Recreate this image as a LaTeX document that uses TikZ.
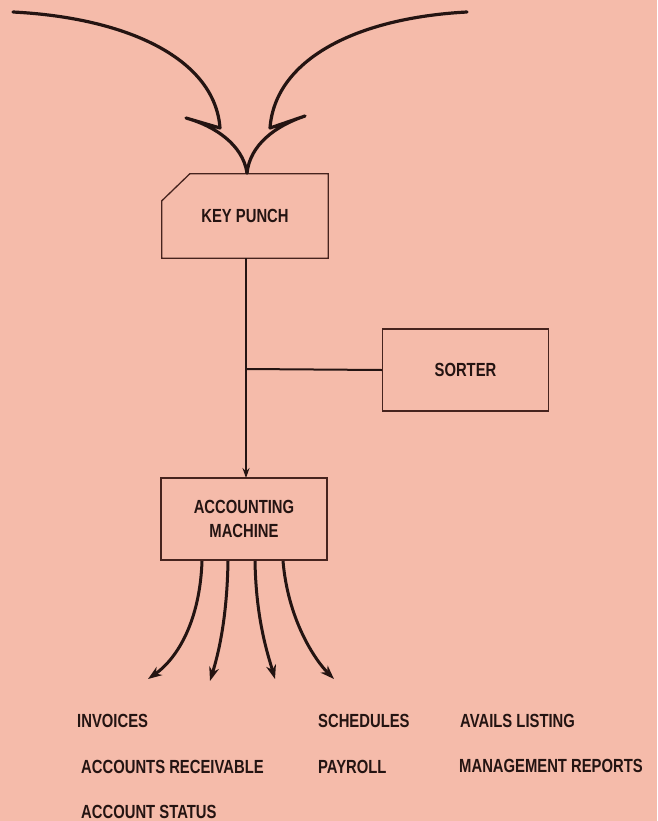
\documentclass[tikz,border=0pt]{standalone}
\usepackage{fontspec}
\newfontfamily\lblfont[FakeStretch=0.78]{Liberation Sans}
\usetikzlibrary{arrows.meta}
\definecolor{paper}{RGB}{245,187,170}
\definecolor{ink}{RGB}{36,20,18}
\definecolor{boxline}{RGB}{70,35,30}
\tikzset{
  lbl/.style={font=\lblfont\bfseries\fontsize{19}{24}\selectfont, text=ink, inner sep=0pt},
  boxnode/.style={lbl, draw=boxline, line width=1.3pt, align=center},
  flow/.style={draw=ink, line width=3.2pt, line join=round, line cap=round},
  outarrow/.style={draw=ink, line width=3pt, -{Stealth[length=14pt,width=10pt]}},
  link/.style={draw=ink, line width=2pt}
}
\begin{document}
\begin{tikzpicture}[x=1pt,y=-1pt]
\fill[paper] (0,0) rectangle (657,821);
\useasboundingbox (0,0) rectangle (657,821);

% key punch (card shape with cut corner)
\node[lbl, minimum width=166pt, minimum height=84pt] (kp) at (245,216) {KEY PUNCH};
\draw[draw=boxline, line width=1.3pt]
  ([xshift=28pt]kp.north west) -- (kp.north east) -- (kp.south east)
  -- (kp.south west) -- ([yshift=-27pt]kp.north west) -- cycle;

\node[boxnode, minimum width=166pt, minimum height=82pt] (sorter) at (465.5,370) {SORTER};
\node[boxnode, minimum width=166pt, minimum height=82pt] (acc) at (244,519) {ACCOUNTING\\MACHINE};

% incoming lightning arrows
\coordinate (inl) at (13,12);
\coordinate (tipl) at (220,128);
\coordinate (barbl) at (186,118);
\coordinate (inr) at (467,12);
\coordinate (tipr) at (270,128);
\coordinate (barbr) at (305,116);
\coordinate (join) at (247,173);
\path[flow] (inl) .. controls (130,18) and (215,60) .. (tipl) -- (barbl)
  .. controls (215,126) and (243,145) .. (join);
\path[flow] (inr) .. controls (355,18) and (275,60) .. (tipr) -- (barbr)
  .. controls (275,126) and (250,145) .. (join);

% main flow
\coordinate (kpout) at (246,258);
\coordinate (accin) at (246,478);
\draw[link, -{Stealth[length=10pt,width=7pt]}] (kpout) -- (accin);
\coordinate (tee) at (246,369);
\draw[link] (sorter.west) -- (tee);

% outputs
\coordinate (s1) at (202,561); \coordinate (e1) at (148,679);
\coordinate (s2) at (228,561); \coordinate (e2) at (210,681);
\coordinate (s3) at (255,561); \coordinate (e3) at (275,679);
\coordinate (s4) at (283,561); \coordinate (e4) at (334,679);
\draw[outarrow] (s1) .. controls (200,620) and (178,658) .. (e1);
\draw[outarrow] (s2) .. controls (227,620) and (218,655) .. (e2);
\draw[outarrow] (s3) .. controls (256,620) and (268,655) .. (e3);
\draw[outarrow] (s4) .. controls (288,620) and (315,660) .. (e4);

% output labels
\node[lbl, anchor=west] (inv) at (77,721) {INVOICES};
\node[lbl, anchor=west] (ar) at (81,767) {ACCOUNTS RECEIVABLE};
\node[lbl, anchor=west] (as) at (81,812) {ACCOUNT STATUS};
\node[lbl, anchor=west] (sch) at (318,721) {SCHEDULES};
\node[lbl, anchor=west] (pay) at (318,767) {PAYROLL};
\node[lbl, anchor=west] (avl) at (460,721) {AVAILS LISTING};
\node[lbl, anchor=west] (mgr) at (459,766) {MANAGEMENT REPORTS};
\end{tikzpicture}
\end{document}
